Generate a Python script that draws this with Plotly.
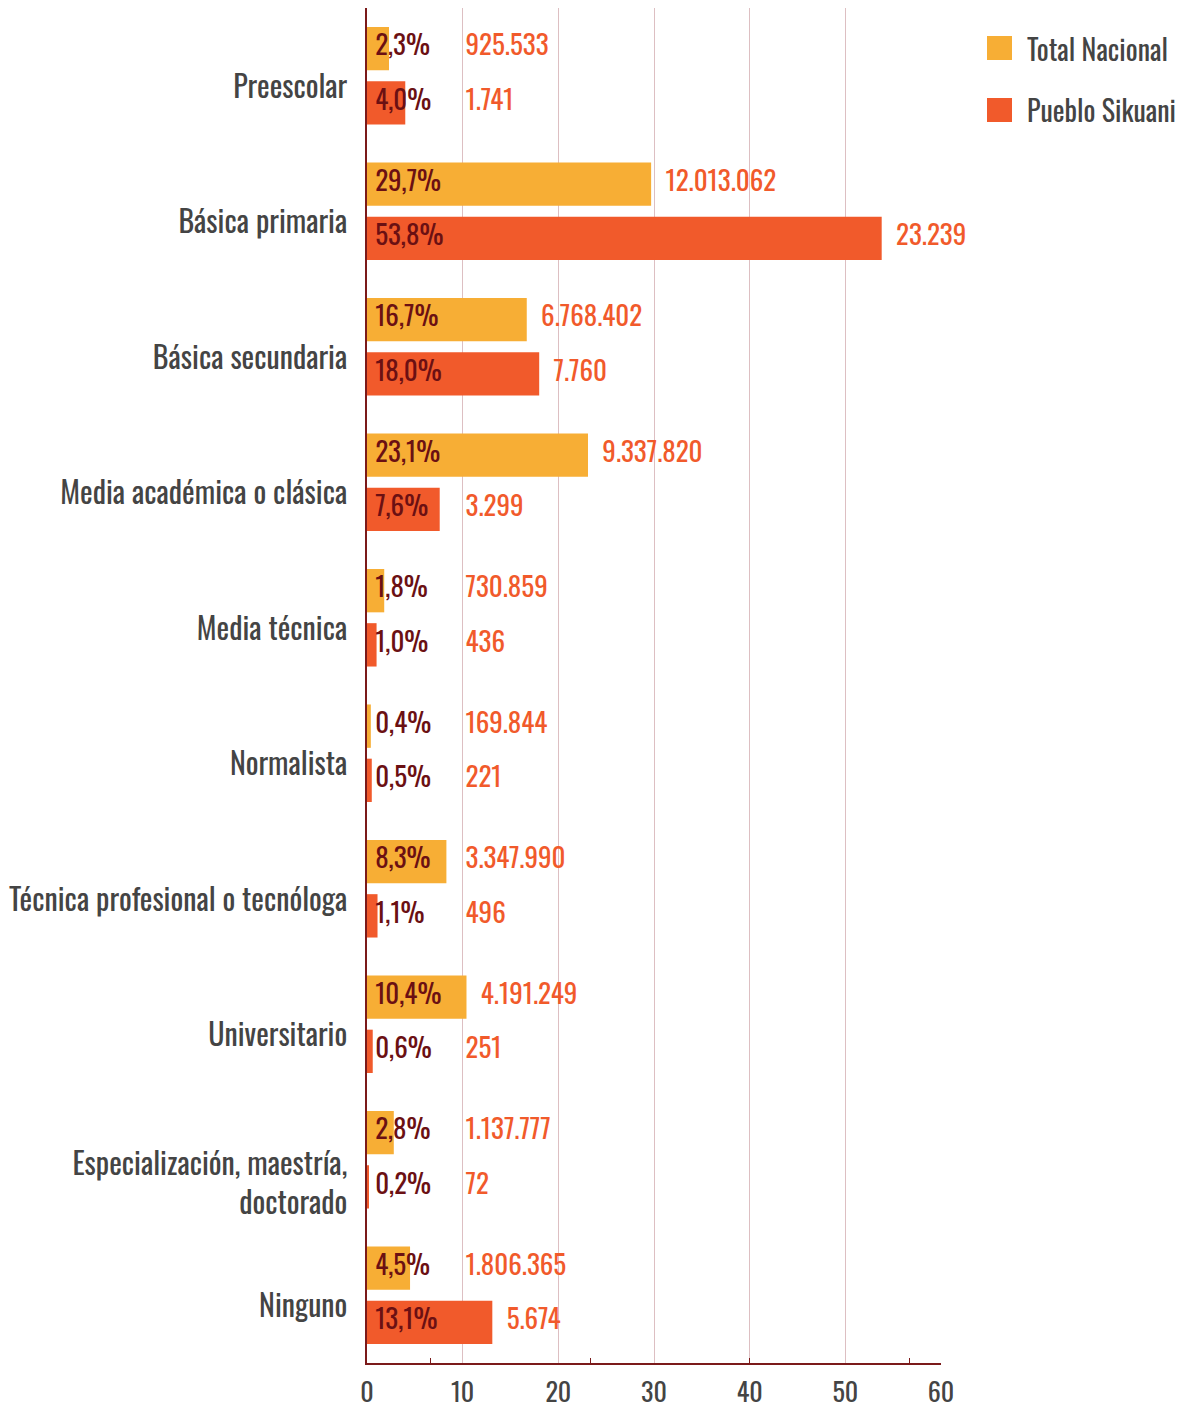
import plotly.graph_objects as go

categories = [
    "Preescolar",
    "Básica primaria",
    "Básica secundaria",
    "Media académica o clásica",
    "Media técnica",
    "Normalista",
    "Técnica profesional o tecnóloga",
    "Universitario",
    "Especialización, maestría,<br>doctorado",
    "Ninguno",
]
nacional_pct = [2.3, 29.7, 16.7, 23.1, 1.8, 0.4, 8.3, 10.4, 2.8, 4.5]
sikuani_pct = [4.0, 53.8, 18.0, 7.6, 1.0, 0.5, 1.1, 0.6, 0.2, 13.1]
nacional_n = [925533, 12013062, 6768402, 9337820, 730859, 169844, 3347990, 4191249, 1137777, 1806365]
sikuani_n = [1741, 23239, 7760, 3299, 436, 221, 496, 251, 72, 5674]
series_names = ["Total Nacional", "Pueblo Sikuani"]
x_ticks = [0, 10, 20, 30, 40, 50, 60]

GOLD = "#F7AE35"
ORANGE = "#F15A2B"
DARKRED = "#6B1013"
GRAY = "#444444"
FONT = "Oswald, Roboto Condensed, DejaVu Sans Condensed, sans-serif"


def pct(v):
    return f"{v:.1f}".replace(".", ",") + "%"


def count(n):
    return f"{n:,}".replace(",", ".")


idx = list(range(len(categories)))
fig = go.Figure()

for vals, ns, color, shift in [
    (nacional_pct, nacional_n, GOLD, -0.2),
    (sikuani_pct, sikuani_n, ORANGE, 0.2),
]:
    ys = [i + shift for i in idx]
    fig.add_trace(go.Bar(
        x=vals, y=ys, orientation="h", width=0.32,
        marker=dict(color=color, line=dict(width=0)),
        showlegend=False, hoverinfo="skip",
    ))
    # percentage labels at the start of each bar
    fig.add_trace(go.Scatter(
        x=[0.85] * len(vals), y=ys, mode="text",
        text=[pct(v) for v in vals], textposition="middle right",
        textfont=dict(family=FONT, size=27, color=DARKRED),
        showlegend=False, hoverinfo="skip", cliponaxis=False,
    ))
    # absolute counts to the right of the bars
    fig.add_trace(go.Scatter(
        x=[max(v + 1.5, 10.3) for v in vals], y=ys, mode="text",
        text=[count(n) for n in ns], textposition="middle right",
        textfont=dict(family=FONT, size=27, color=ORANGE),
        showlegend=False, hoverinfo="skip", cliponaxis=False,
    ))

# plot area in pixels
L, R, T, B = 367, 941, 8, 1363
W, H = 1182, 1407


def px_x(x):
    return (x - L) / (R - L)


def px_y(y):
    return (B - y) / (B - T)


shapes = []
annotations = []
for k, (name, color) in enumerate(zip(series_names, [GOLD, ORANGE])):
    yc = 48 + 62 * k
    shapes.append(dict(
        type="rect", xref="paper", yref="paper",
        x0=px_x(987), x1=px_x(1012), y0=px_y(yc + 12), y1=px_y(yc - 12),
        fillcolor=color, line=dict(width=0),
    ))
    annotations.append(dict(
        xref="paper", yref="paper", x=px_x(1025), y=px_y(yc),
        xanchor="left", yanchor="middle", text=name, showarrow=False,
        font=dict(family=FONT, size=28, color=GRAY),
    ))

fig.update_layout(
    width=W, height=H,
    margin=dict(l=L, r=W - R, t=T, b=H - B),
    paper_bgcolor="white", plot_bgcolor="white",
    barmode="overlay",
    shapes=shapes, annotations=annotations,
    font=dict(family=FONT, color=GRAY),
)
fig.update_xaxes(
    range=[0, 60], tickvals=x_ticks, ticktext=[str(t) for t in x_ticks],
    showgrid=True, gridcolor="#DDBFC2", gridwidth=1,
    showline=True, linecolor="#7B1A1A", linewidth=1.5,
    zeroline=False, ticks="", ticklabelstandoff=6, automargin=False,
    tickfont=dict(family=FONT, size=26, color=GRAY),
    minor=dict(tick0=20 / 3, dtick=50 / 3, ticks="inside", ticklen=5,
               tickcolor="#7B1A1A", showgrid=False),
)
fig.update_yaxes(
    range=[len(categories) - 0.5, -0.5],
    tickvals=[i + (0.18 if "<br>" in c else 0.085) for i, c in zip(idx, categories)],
    ticktext=categories,
    showgrid=False, zeroline=False, automargin=False,
    showline=True, linecolor="#7B1A1A", linewidth=1.5,
    ticks="", ticklabelstandoff=12,
    tickfont=dict(family=FONT, size=30, color=GRAY),
)

fig.write_html(
    "out.html",
    config={"displayModeBar": False},
    post_script="document.body.style.margin='0';",
)
